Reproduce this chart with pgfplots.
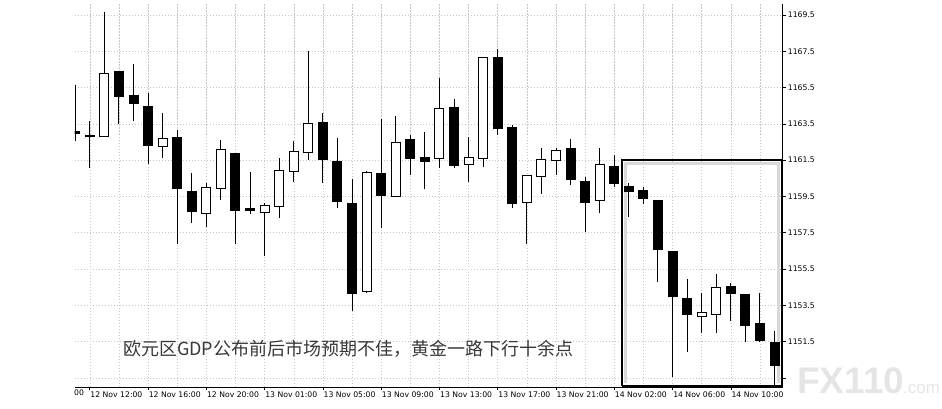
\documentclass[border=0pt]{standalone}
\usepackage{fontspec}
\setmainfont{DejaVu Sans}
\newfontfamily\cjk{Noto Sans CJK SC}
\newfontfamily\wm{Liberation Sans}
\usepackage{pgfplots}
\usepackage{pgfplotstable}
\pgfplotsset{compat=1.18}

% hourly candles, x = bar index (1 = 12 Nov 12:00)
\pgfplotstableread{
x  o       h       l       c
0  1163.10 1165.63 1162.55 1162.93
1  1162.83 1163.65 1161.06 1162.83
2  1162.77 1169.65 1162.75 1166.29
3  1166.40 1166.40 1163.48 1164.97
4  1165.08 1166.79 1163.65 1164.59
5  1164.48 1165.19 1161.28 1162.27
6  1162.22 1164.09 1161.61 1162.71
7  1162.77 1163.15 1156.87 1159.90
8  1159.79 1160.78 1158.03 1158.63
9  1158.52 1160.23 1157.81 1160.01
10 1159.90 1162.60 1159.30 1162.11
11 1161.89 1161.89 1156.87 1158.69
12 1158.86 1160.84 1158.52 1158.69
13 1158.63 1159.13 1156.21 1159.02
14 1158.91 1161.61 1158.30 1160.95
15 1160.84 1162.55 1160.29 1162.00
16 1161.89 1167.51 1161.50 1163.54
17 1163.59 1164.09 1160.23 1161.50
18 1161.44 1162.71 1158.86 1159.19
19 1159.13 1160.45 1153.18 1154.12
20 1154.23 1160.89 1154.20 1160.84
21 1160.78 1163.76 1157.75 1159.52
22 1159.46 1163.92 1159.46 1162.49
23 1162.66 1162.88 1160.67 1161.56
24 1161.67 1163.04 1159.90 1161.44
25 1161.56 1166.02 1161.06 1164.37
26 1164.42 1164.86 1161.06 1161.17
27 1161.22 1162.77 1160.29 1161.67
28 1161.56 1167.18 1161.11 1167.18
29 1167.23 1167.62 1162.88 1163.21
30 1163.32 1163.43 1158.86 1159.08
31 1159.13 1160.67 1156.87 1160.67
32 1160.56 1162.16 1159.63 1161.56
33 1161.44 1162.16 1160.67 1162.05
34 1162.16 1162.66 1160.12 1160.40
35 1160.34 1160.56 1157.53 1159.13
36 1159.24 1162.16 1158.58 1161.28
37 1161.17 1161.78 1160.01 1160.18
38 1160.07 1160.23 1158.36 1159.74
39 1159.85 1160.01 1159.08 1159.35
40 1159.30 1159.30 1154.78 1156.54
41 1156.49 1156.49 1149.54 1153.95
42 1153.90 1154.94 1150.92 1152.96
43 1152.85 1154.17 1151.97 1153.13
44 1152.96 1155.22 1151.97 1154.50
45 1154.56 1154.72 1152.63 1154.12
46 1154.12 1154.12 1151.47 1152.35
47 1152.52 1154.17 1151.47 1151.53
48 1151.47 1152.08 1148.90 1150.15
}\candles

\begin{document}
\begin{tikzpicture}
\useasboundingbox (0,0) rectangle (942pt,408pt);
\begin{axis}[
  at={(74.5pt,21pt)}, anchor=south west,
  scale only axis, width=708.2pt, height=383.3pt,
  xmin=-0.05, xmax=48.56, ymin=1149, ymax=1170.12,
  axis x line*=bottom, axis y line*=right,
  axis line style={black, line width=0.8pt},
  xtick={1,5,9,13,17,21,25,29,33,37,41,45},
  xticklabels={12 Nov 12:00,12 Nov 16:00,12 Nov 20:00,13 Nov 01:00,13 Nov 05:00,13 Nov 09:00,13 Nov 13:00,13 Nov 17:00,13 Nov 21:00,14 Nov 02:00,14 Nov 06:00,14 Nov 10:00},
  minor xtick={3,7,11,15,19,23,27,31,35,39,43,47},
  ytick={1149.5,1151.5,1153.5,1155.5,1157.5,1159.5,1161.5,1163.5,1165.5,1167.5,1169.5},
  yticklabels={,1151.5,1153.5,1155.5,1157.5,1159.5,1161.5,1163.5,1165.5,1167.5,1169.5},
  tick align=outside, major tick length=3pt, minor tick length=0pt,
  tick style={black, line width=0.6pt},
  ticklabel style={font=\fontsize{7.7}{9}\selectfont, inner sep=1pt},
  xticklabel style={anchor=north west, xshift=-0.5pt, yshift=-1pt},
  yticklabel style={anchor=west, xshift=1pt},
  xmajorgrids=true, xminorgrids=true, ymajorgrids=true, yminorgrids=false,
  grid style={gray!45, dash pattern=on 1.5pt off 1.5pt, line width=0.5pt},
  minor grid style={gray!45, dash pattern=on 1.5pt off 1.5pt, line width=0.5pt},
]
% highlight box
\addplot[gray!30, line width=3pt, line join=miter, forget plot] coordinates {
  (37.74,1149.2) (37.74,1161.33) (48.3,1161.33) (48.3,1149.2)};
\addplot[black, line width=2.6pt, line join=miter, forget plot] coordinates {
  (37.53,1149.04) (37.53,1161.5) (48.51,1161.5) (48.51,1149.04) (37.53,1149.04)};
% wicks
\addplot[draw=none, mark=none, forget plot,
  error bars/.cd, y dir=both, y explicit, error mark=none,
  error bar style={draw=black, line width=1pt}]
  table[x=x, y expr={(\thisrow{h}+\thisrow{l})/2},
        y error expr={(\thisrow{h}-\thisrow{l})/2}] {\candles};
% bodies (outline / bearish fill)
\addplot[draw=none, mark=none, forget plot,
  error bars/.cd, y dir=both, y explicit, error mark=none,
  error bar style={draw=black, line width=10pt}]
  table[x=x, y expr={(\thisrow{o}+\thisrow{c})/2},
        y error expr={max(abs(\thisrow{o}-\thisrow{c})/2,0.03)}] {\candles};
% bullish bodies hollow
\addplot[draw=none, mark=none, forget plot,
  error bars/.cd, y dir=both, y explicit, error mark=none,
  error bar style={draw=white, line width=8pt}]
  table[x=x, y expr={(\thisrow{o}+\thisrow{c})/2},
        y error expr={max((\thisrow{c}-\thisrow{o})/2-0.055,0)}] {\candles};
\end{axis}
\node[anchor=west, inner sep=0pt, text=black!78, font=\cjk\fontsize{18}{18}\selectfont]
  at (123pt,59pt) {欧元区GDP公布前后市场预期不佳，黄金一路下行十余点};
\node[anchor=north west, inner sep=1pt, font=\fontsize{7.7}{9}\selectfont] at (73pt,19pt) {00};
\node[anchor=base west, inner sep=0pt, text=gray!20, font=\wm\bfseries\fontsize{37}{37}\selectfont]
  at (797pt,15pt) {FX110};
\node[anchor=base west, inner sep=0pt, text=gray!20, font=\wm\fontsize{17}{17}\selectfont]
  at (903pt,15pt) {.com};
\end{tikzpicture}
\end{document}
